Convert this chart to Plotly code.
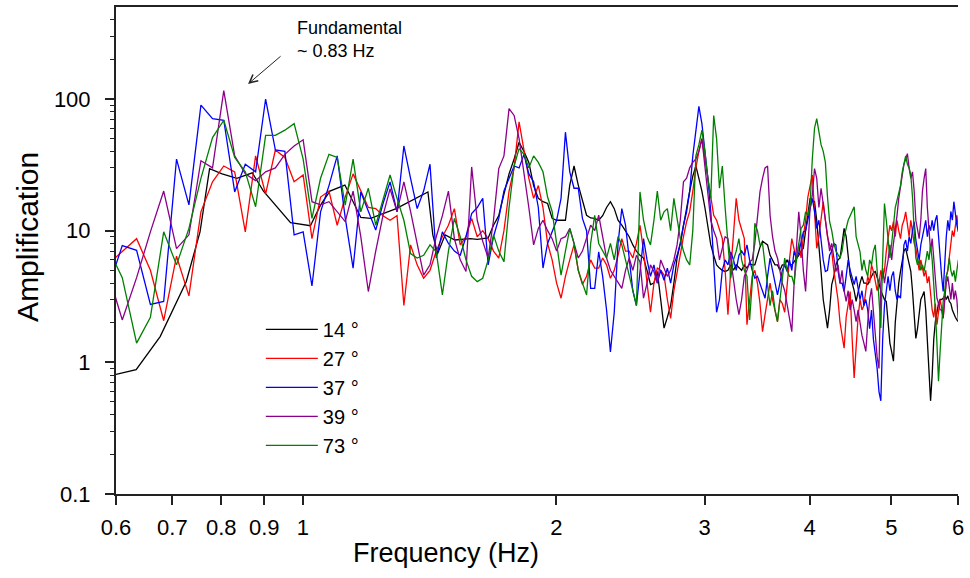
import numpy as np
import plotly.graph_objects as go

# Spectral ratios sampled every 1/40.96 Hz, bins 24..246 (about 0.59 - 6.0 Hz)
DF = 1.0 / 40.96
FREQ = DF * np.arange(24, 247)

AMP_37 = [
    3.5, 7.7, 7.1, 2.75, 2.9, 35, 15.7, 90, 71, 69,
    19.7, 32, 28, 100, 41, 40, 9.3, 9.8, 3.8, 13.9,
    22, 37, 12.5, 5.2, 19.7, 14, 10.1, 16, 23.5, 13.9,
    44, 25, 14.7, 20, 32, 6.2, 9.8, 8, 7, 6.5,
    9, 13.5, 15, 17.6, 5.5, 9, 12.4, 20, 25, 31,
    30, 38, 27, 23.5, 15, 5.2, 8, 10, 12, 17.6,
    56, 28, 21, 21, 12.4, 10, 3.65, 3.65, 6.9, 4.5,
    2.5, 1.2, 2.4, 8, 14.7, 11, 6, 3.5, 2.7, 5,
    8.7, 6, 4.5, 5.5, 4, 5, 4.2, 5.2, 4, 5.5,
    6.5, 8, 11, 13.9, 20, 37, 60, 88, 65, 42,
    25, 13.9, 6, 2.4, 3, 5, 6, 5.5, 6.9, 6,
    5, 6.5, 7, 6.5, 7.8, 6, 5, 4.35, 4.5, 4,
    3.5, 3.07, 4.5, 6.2, 5, 4, 3.25, 4, 5, 5.5,
    4.9, 6, 5, 7, 6.2, 6.8, 8, 9.8, 10, 12,
    14, 17.6, 14, 10.4, 12, 8, 6, 4.9, 5, 6.5,
    7, 8, 7.8, 5, 4, 4, 3.45, 4.5, 6, 5,
    4.5, 3.9, 4.5, 3.5, 3, 3.5, 2.7, 3, 2.5, 1.8,
    2.5, 1.5, 1.2, 0.9, 0.6, 0.51, 1.5, 2.7, 3.5, 4.5,
    3.5, 4.5, 4.9, 3.5, 3, 3.2, 3.07, 5.5, 7.8, 8.5,
    7, 9, 8, 10, 11.7, 8.5, 7, 6, 7.8, 9,
    11, 12, 9, 11, 10, 12, 10, 12, 13.1, 9,
    6, 4.5, 3.45, 6, 9, 12, 10, 14, 12, 16.6,
    13, 11, 9.8,
]

AMP_27 = [
    5.5, 7, 8.7, 5.0, 2.07, 6.4, 3.2, 13.9, 23.5, 31,
    28, 9.8, 37, 19, 41, 36, 23.5, 26.5, 8.7, 18,
    20, 11, 18, 27, 20, 15, 14.7, 13, 12, 13,
    2.7, 7.8, 5.5, 4.35, 5, 7, 9, 11, 14.7, 7.8,
    9, 12.4, 9, 10, 8.7, 7, 6.2, 10, 20, 30,
    67, 40, 25, 17.6, 22, 15, 8, 6, 4, 3.07,
    4.5, 6, 7.8, 5, 3.9, 4.5, 6, 5.2, 5.2, 6.2,
    5.5, 4.35, 5, 6.5, 8.7, 7, 7, 6.2, 8, 11,
    7, 4, 2.4, 4, 5.2, 5, 4.6, 3, 2.16, 3.5,
    4.9, 7, 9, 11.7, 14, 20, 30, 40, 50, 35,
    25, 17, 13.1, 12, 10, 8.7, 5, 2.3, 5, 10,
    17.6, 12, 10, 8.7, 1.93, 3, 4.5, 5, 4, 2.8,
    1.71, 2.3, 3.07, 4, 3, 2.5, 2.04, 3, 2.8, 2.4,
    4, 6, 8.7, 7, 6, 8, 6.2, 9, 12, 18,
    22, 26.5, 14, 7.35, 9, 12, 16.6, 12, 9, 7.8,
    7, 5, 3.9, 3, 2, 1.6, 1.28, 2.2, 2.8, 3.45,
    1.5, 0.76, 1.3, 2.2, 3, 2.5, 2.7, 3.5, 4.5, 4,
    5.5, 4.9, 4, 3.5, 4, 5, 4.35, 5, 7, 9,
    11, 10, 11.7, 9, 12, 10, 8.7, 11, 12, 13.9,
    11, 9, 12, 10, 8, 7.35, 6, 5, 6, 5,
    4.5, 5, 4, 4.5, 3.45, 2.5, 2.2, 2.8, 1.93, 2.5,
    3, 2.6, 2.16, 3, 4.5, 5, 6.2, 8, 10, 9,
    11, 13.1, 10,
]

AMP_39 = [
    5, 2.1, 4.4, 9.8, 20, 7.3, 9.3, 34, 30, 116,
    37, 27, 24, 28, 30, 38, 44, 49, 16.6, 15.7,
    16.6, 14, 11.7, 20, 9, 3.45, 7, 13, 20.8, 13.9,
    23.5, 14, 7.8, 4.6, 5.5, 9, 13, 20, 8.7, 6,
    4.9, 30.5, 12, 8.3, 6.2, 12, 29.6, 37, 84.5, 75,
    50, 28, 15, 7.8, 10.4, 12, 10, 8.7, 7, 8.7,
    9, 10.4, 8, 6.2, 7, 9, 11, 10, 13.1, 9,
    6.2, 5, 4.5, 4, 3.65, 5, 6.2, 5, 6.5, 5.8,
    3.07, 4, 5.5, 4.9, 4, 6, 5.2, 4.5, 5, 6,
    7.8, 12, 23.5, 25, 30, 33, 35, 40, 50, 30,
    20, 12, 10, 8.7, 6, 7.5, 9, 8.7, 6, 4,
    3, 2.3, 3, 4.5, 5, 5.8, 6, 8, 12, 19.7,
    25, 30, 31, 13.1, 9, 7, 6.2, 5, 4, 3.5,
    2.7, 2.2, 1.71, 4, 8, 13.9, 9, 5, 3.45, 8,
    15, 18.6, 29.6, 25, 15, 21, 16, 12.4, 9, 7,
    8, 6, 4.9, 5.5, 4, 5, 3.5, 2.9, 3.5, 2.5,
    3, 2.5, 2.04, 2.5, 2, 1.6, 1.4, 1.21, 2, 3,
    3.65, 2.5, 1.5, 1.1, 0.9, 4, 5.2, 4, 5, 6,
    7.8, 6, 8, 10, 13, 17.6, 22, 28, 32, 35,
    38.5, 30, 25, 28, 20, 12, 10, 8.7, 12, 20,
    25, 29.6, 15, 10, 7, 8.7, 6, 4, 3.07, 2.8,
    2.5, 2.5, 2.16, 3, 4, 4.5, 3.65, 3, 4, 3,
    3.5, 3, 2.04,
]

AMP_73 = [
    7.5, 4.4, 1.4, 2.2, 9.8, 5.5, 10.4, 25, 51, 69,
    36, 28, 15.2, 53, 53, 58, 65, 35, 12.4, 25,
    38, 36, 15.6, 35, 13.9, 21, 11, 17, 26.5, 17.6,
    12, 6.7, 6.2, 6.5, 7.8, 6.9, 3.25, 7, 12.4, 9,
    6, 4.5, 4.1, 4.35, 6, 9.3, 7, 5.8, 15, 31,
    42, 38, 30, 37, 33, 28, 18, 14, 8, 4.6,
    7, 10.4, 8, 5, 4, 3.25, 8, 13.1, 8, 7,
    6.2, 8, 6, 9, 7.8, 6, 4.5, 3.5, 2.7, 19.7,
    12, 9, 7.8, 12, 20, 12, 13.9, 14.7, 10, 17.6,
    12, 8.7, 7, 6, 5.5, 10, 37, 45, 58, 40,
    25, 17.6, 75, 50, 21, 31, 15, 8, 4.35, 6,
    7, 8.7, 6, 5, 4.5, 2.1, 4, 11.4, 10, 7.8,
    8, 5.5, 4, 2.7, 3.5, 2.5, 2.04, 3, 4.5, 6.2,
    5, 4.5, 4.5, 3.9, 6, 8, 10.4, 11, 13.9, 13,
    15.7, 35, 60, 71, 55, 45, 40, 33, 18, 11.7,
    10, 8, 7, 6.5, 6.2, 7, 9, 10.4, 12, 13,
    14, 15.2, 9, 8, 6.9, 5, 6, 5, 4.5, 6,
    5.5, 7, 7.8, 5, 3, 1.82, 6, 16.1, 12, 8,
    6.2, 8, 11, 15, 17, 19.7, 22, 28, 33, 37,
    32, 30, 26.5, 18, 10, 6.2, 5.5, 6, 5, 5.5,
    4.9, 6, 7, 6, 7.8, 6, 4, 2.5, 1.4, 0.72,
    1.2, 2, 2.9, 3.5, 4.5, 5, 6.2, 5, 4.5, 5,
    4.1, 5, 6,
]

# 14 degrees: coarser points below 1.6 Hz, then the regular bins 66..246
FREQ_14_LOW = [0.6, 0.634, 0.677, 0.727, 0.755, 0.775, 0.802, 0.835, 0.871, 0.898,
               0.967, 1.021, 1.05, 1.077, 1.122, 1.172, 1.204, 1.291, 1.408, 1.427,
               1.446, 1.476, 1.516, 1.58]
AMP_14_LOW = [0.81, 0.88, 1.57, 4.1, 9.8, 29.6, 27, 25, 27.5, 20,
              11.5, 10.9, 15.7, 20, 22.2, 12.6, 12.4, 14.7, 19.7, 9.3,
              6.7, 9.3, 8.5, 8.7]
AMP_14_BINS = [
    8.6, 8.7, 8.8, 11, 13, 19, 27, 35, 47, 40,
    33, 22, 17.6, 16.6, 16.1, 12.4, 12, 12, 12, 22.2,
    31, 22.2, 17, 13.1, 12.5, 12.4, 12, 13, 15, 16.6,
    14.7, 12, 11, 10, 9, 7.8, 7, 6.5, 6.2, 5,
    3.9, 4, 4.9, 3, 1.82, 2.2, 2.7, 4, 6.2, 8,
    11, 15.7, 20, 26, 31, 25, 20, 15, 11, 7.8,
    6.5, 5.5, 5.2, 5, 4.9, 5, 5.5, 5, 5.5, 5.2,
    5, 5.5, 5.2, 5.6, 5.5, 5.5, 6.5, 7.5, 8.3, 8,
    7.8, 6.5, 6, 5.5, 5.5, 5, 5.5, 5.5, 6, 5.5,
    5.5, 5.8, 6.2, 6.5, 7, 7.35, 10, 14, 17.6, 17,
    16.6, 12, 7, 4.9, 3, 2.3, 1.82, 2.5, 3.9, 4.5,
    5.5, 6, 6.2, 8, 10.4, 9, 6.5, 4.6, 4, 3.5,
    2.9, 3.5, 4, 4.5, 4, 4, 3.9, 4.2, 4.5, 4.8,
    4.9, 4.5, 4, 3.5, 3.2, 3, 2.9, 2, 1.4, 1.2,
    1.02, 2, 3, 4, 4.9, 6, 7, 7.35, 6.5, 5.5,
    4.9, 3.5, 2.2, 1.52, 1.8, 2.5, 3, 3.2, 3.45, 2.5,
    1.5, 0.8, 0.51, 0.8, 1.5, 2.04, 2.5, 2.8, 3, 3,
    3.07, 3.2, 3, 3.2, 2.9, 2.8, 2.5, 2.3, 2.2, 2.1,
    2.04,
]
FREQ_14 = FREQ_14_LOW + list(DF * np.arange(66, 247))
AMP_14 = AMP_14_LOW + AMP_14_BINS

SERIES = [
    ("14 °", FREQ_14, AMP_14, "#000000"),
    ("27 °", FREQ, AMP_27, "#ff0000"),
    ("37 °", FREQ, AMP_37, "#0000ff"),
    ("39 °", FREQ, AMP_39, "#8b008b"),
    ("73 °", FREQ, AMP_73, "#008000"),
]

X_TICKS = [0.6, 0.7, 0.8, 0.9, 1, 2, 3, 4, 5, 6]
X_TICK_TEXT = ["0.6", "0.7", "0.8", "0.9", "1", "2", "3", "4", "5", "6"]
Y_TICKS = [0.1, 1, 10, 100]
Y_TICK_TEXT = ["0.1", "1", "10", "100"]
Y_MINOR = [m * d for d in (0.1, 1, 10) for m in range(2, 10)] + [200, 300, 400]

FONT = "Liberation Sans, Arial, sans-serif"
AXIS_COLOR = "#222222"

fig = go.Figure()
for name, f, a, color in SERIES:
    fig.add_trace(go.Scatter(
        x=f, y=a, name=name, mode="lines",
        line=dict(color=color, width=1.3),
    ))

fig.update_layout(
    width=970, height=578,
    margin=dict(l=116, r=12, t=5, b=84),
    paper_bgcolor="white", plot_bgcolor="white",
    font=dict(family=FONT, color="black"),
    showlegend=True,
    legend=dict(
        x=0.172, y=0.378, xanchor="left", yanchor="top",
        bgcolor="rgba(0,0,0,0)", font=dict(size=20, family=FONT),
        tracegroupgap=0, itemwidth=52,
    ),
    xaxis=dict(
        type="log", range=[np.log10(0.6), np.log10(6)],
        tickmode="array", tickvals=X_TICKS, ticktext=X_TICK_TEXT,
        ticks="outside", ticklen=9, tickwidth=1.5, tickcolor=AXIS_COLOR,
        ticklabelstandoff=4,
        showline=True, linewidth=2, linecolor=AXIS_COLOR, mirror=True,
        showgrid=False, zeroline=False, tickfont=dict(size=22),
    ),
    yaxis=dict(
        type="log", range=[-1, np.log10(500)],
        tickmode="array", tickvals=Y_TICKS, ticktext=Y_TICK_TEXT,
        ticks="outside", ticklen=9, tickwidth=1.5, tickcolor=AXIS_COLOR,
        ticklabelstandoff=10,
        minor=dict(tickmode="array", tickvals=Y_MINOR, ticks="outside",
                   ticklen=4, tickwidth=1.2, tickcolor=AXIS_COLOR, showgrid=False),
        showline=True, linewidth=2, linecolor=AXIS_COLOR,
        showgrid=False, zeroline=False, tickfont=dict(size=22),
    ),
    yaxis2=dict(
        type="log", range=[-1, np.log10(500)], overlaying="y", side="right",
        anchor="x", tickmode="array", tickvals=Y_MINOR, showticklabels=False,
        ticks="inside", ticklen=5, tickwidth=1.2, tickcolor=AXIS_COLOR,
        showline=True, linewidth=2, linecolor=AXIS_COLOR,
        showgrid=False, zeroline=False,
    ),
    annotations=[
        dict(text="Frequency (Hz)", xref="paper", yref="paper",
             x=0.392, y=-0.121, xanchor="center", yanchor="middle",
             showarrow=False, font=dict(size=27, family=FONT)),
        dict(text="Amplification", xref="paper", yref="paper",
             x=-0.1045, y=0.528, xanchor="center", yanchor="middle",
             textangle=-90, showarrow=False, font=dict(size=30, family=FONT)),
        dict(text="Fundamental<br>~ 0.83 Hz", xref="paper", yref="paper",
             x=0.2126, y=0.982, xanchor="left", yanchor="top", align="left",
             showarrow=False, font=dict(size=18, family=FONT)),
        dict(text="", x=np.log10(0.861), y=np.log10(130), xref="x", yref="y",
             showarrow=True, ax=34, ay=-29, arrowhead=5, arrowsize=1.6,
             arrowwidth=1, arrowcolor=AXIS_COLOR),
    ],
)

fig.write_html("out.html")
